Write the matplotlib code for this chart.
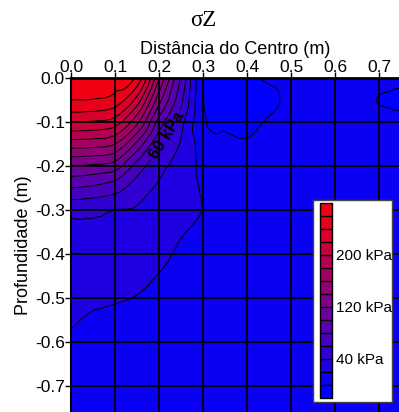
import numpy as np
import matplotlib
matplotlib.use("Agg")
import matplotlib.pyplot as plt
from matplotlib import tri
from matplotlib.colors import ListedColormap, BoundaryNorm
from matplotlib.patches import Rectangle

plt.rcParams["font.family"] = ["Liberation Sans", "DejaVu Sans"]
plt.rcParams["axes.unicode_minus"] = False

# Grid of vertical stress sigma_z (kPa): columns = distance from centre (m),
# rows = depth (m)
distance_m = [0.00, 0.05, 0.10, 0.15, 0.20, 0.25, 0.30, 0.35,
              0.40, 0.45, 0.50, 0.55, 0.60, 0.65, 0.70, 0.75]
depth_m = [0.00, -0.05, -0.10, -0.15, -0.20, -0.25, -0.30, -0.35,
           -0.40, -0.45, -0.50, -0.55, -0.60, -0.65, -0.70, -0.80]
sigma_z = [
    [272, 271, 268, 255, 162, 78, 0.0, -3, -1.0, 1.0, 3, 3, 3, 3, 3.0, 2.0],
    [260, 259, 252, 212, 128, 65, 1.0, -4, -4.0, -2.0, 2, 3, 3, 3, -0.3, -1.5],
    [220, 218, 210, 165, 92, 47, 3.0, -2, -2.5, 1.0, 4, 4, 4, 4, 3.0, 2.5],
    [170, 168, 160, 115, 63, 38, 12.0, 3, 1.0, 4.0, 5, 5, 5, 5, 5.0, 5.0],
    [120, 117, 110, 72, 46, 33, 15.0, 7, 5.0, 6.0, 6, 6, 6, 6, 6.0, 6.0],
    [80, 76, 68, 50, 37, 29, 18.0, 9, 7.0, 7.0, 7, 7, 7, 7, 7.0, 7.0],
    [46, 45, 40, 38, 32.6, 25, 19.5, 10, 8.0, 8.0, 8, 8, 8, 8, 8.0, 8.0],
    [36, 36.3, 35.3, 33.3, 28, 21, 17.0, 10, 8.5, 8.5, 8.5, 8.5, 8.5, 8.5, 8.5, 8.5],
    [33.6, 31.7, 30.6, 28.6, 23.3, 18, 15.0, 10, 9, 9, 9, 9, 9, 9, 9, 9],
    [29.5, 27.1, 25.8, 23.8, 19.5, 16, 14.0, 10, 9, 9, 9, 9, 9, 9, 9, 9],
    [25.3, 22.5, 21.1, 19.5, 17, 15, 13.0, 10, 9, 9, 9, 9, 9, 9, 9, 9],
    [21.2, 18.5, 17.5, 17, 15, 14, 12.5, 10, 9, 9, 9, 9, 9, 9, 9, 9],
    [18.5, 16.5, 15.5, 15, 14, 13, 12.0, 10, 9, 9, 9, 9, 9, 9, 9, 9],
    [16.5, 15, 14, 13.5, 13, 12, 11.5, 10, 9, 9, 9, 9, 9, 9, 9, 9],
    [15, 13.8, 13, 12.5, 12, 11.5, 11.0, 10, 9, 9, 9, 9, 9, 9, 9, 9],
    [12.5, 12, 11.5, 11, 10.5, 10.5, 10.0, 9.5, 9, 9, 9, 9, 9, 9, 9, 9],
]

levels = list(range(-20, 300, 20))
labelled_level = 60
line_levels = [lv for lv in range(0, 280, 20) if lv != labelled_level]
cbar_ticks = [40, 120, 200]
cbar_labels = ["40 kPa", "120 kPa", "200 kPa"]
x_ticks = [0.0, 0.1, 0.2, 0.3, 0.4, 0.5, 0.6, 0.7]
x_ticklabels = ["0.0", "0.1", "0.2", "0.3", "0.4", "0.5", "0.6", "0.7"]
y_ticks = [0.0, -0.1, -0.2, -0.3, -0.4, -0.5, -0.6, -0.7]
y_ticklabels = ["0.0", "-0.1", "-0.2", "-0.3", "-0.4", "-0.5", "-0.6", "-0.7"]

band_colors = ["#0000FF", "#0A00F4", "#1F00E3", "#3100D2", "#4500BF",
               "#5800AD", "#6B009A", "#7E0088", "#910075", "#A30063",
               "#B60050", "#C8003E", "#DA002B", "#E70019", "#F00010"]

fig = plt.figure(figsize=(3.99, 4.12), dpi=100)
ax = fig.add_axes([71 / 399, 0, 328 / 399, 334 / 412])

# smooth surface through the grid values
X, Y = np.meshgrid(distance_m, depth_m)
Z = np.array(sigma_z, dtype=float)
triang = tri.Triangulation(X.ravel(), Y.ravel())
interp = tri.CubicTriInterpolator(triang, Z.ravel(), kind="geom")
xf = np.linspace(0, 0.75, 301)
yf = np.linspace(-0.80, 0, 321)
XF, YF = np.meshgrid(xf, yf)
ZF = np.ma.filled(interp(XF, YF), np.nan)

cmap = ListedColormap(band_colors)
norm = BoundaryNorm(levels, cmap.N)
cf = ax.contourf(XF, YF, ZF, levels=levels, cmap=cmap, norm=norm)
ax.contour(XF, YF, ZF, levels=line_levels, colors="black", linewidths=0.7)
cs60 = ax.contour(XF, YF, ZF, levels=[labelled_level], colors="black",
                  linewidths=0.7)
labels = ax.clabel(cs60, manual=[(0.218, -0.13)], fmt="%d kPa",
                   fontsize=12, inline=True, inline_spacing=2)
for t in labels:
    t.set_fontweight("bold")
    t.set_color("black")

ax.set_xlim(0, 328 / 440)
ax.set_ylim(-334 / 440, 0)
ax.xaxis.tick_top()
ax.xaxis.set_label_position("top")
ax.set_xticks(x_ticks)
ax.set_xticklabels(x_ticklabels)
ax.set_yticks(y_ticks)
ax.set_yticklabels(y_ticklabels)
ax.tick_params(axis="x", labelsize=12.5, length=4, width=1, pad=-1.5,
               color="black")
ax.tick_params(axis="y", labelsize=12.5, length=4, width=1, pad=0.5,
               color="black")
ax.set_xlabel("Distância do Centro (m)", fontsize=13, labelpad=4)
ax.set_ylabel("Profundidade (m)", fontsize=13, labelpad=2)
ax.set_axisbelow(False)
ax.grid(True, color="black", linewidth=1.3)
ax.spines["top"].set_linewidth(2)
ax.spines["left"].set_linewidth(1.5)
ax.spines["right"].set_visible(False)
ax.spines["bottom"].set_visible(False)

fig.text(0.51, 1 - 20 / 412, "σZ", ha="center", va="center", fontsize=16.5,
         family=["Liberation Serif", "DejaVu Serif"])

# legend box with colour scale
box = Rectangle((313 / 399, 1 - 402 / 412), 79 / 399, 202 / 412,
                transform=fig.transFigure, facecolor="white",
                edgecolor="#444444", linewidth=1, zorder=2)
fig.add_artist(box)
cax = fig.add_axes([320 / 399, 1 - 398 / 412, 12 / 399, 195 / 412])
cax.set_zorder(3)
cbar = fig.colorbar(cf, cax=cax, ticks=cbar_ticks, drawedges=True)
cbar.minorticks_off()
cbar.ax.set_yticklabels(cbar_labels)
cbar.ax.tick_params(length=0, labelsize=11, pad=3)
cbar.outline.set_edgecolor("black")
cbar.outline.set_linewidth(1)
cbar.dividers.set_color("black")
cbar.dividers.set_linewidth(1)

fig.savefig("out.png", dpi=100)
